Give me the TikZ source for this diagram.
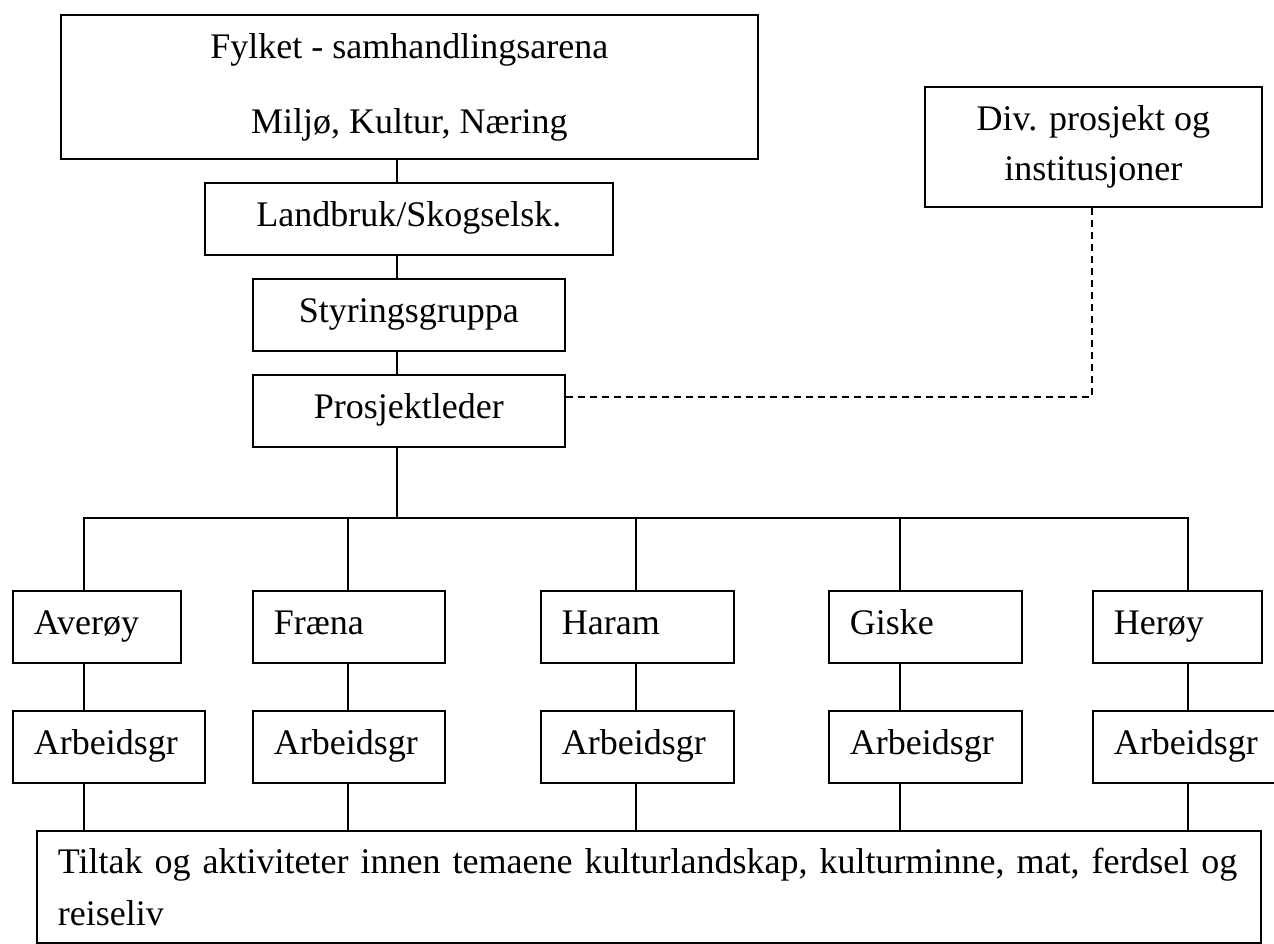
\documentclass[tikz,border=0pt]{standalone}
\usepackage{fontspec}
\setmainfont{Liberation Serif}

\tikzset{
  boks/.style={draw, line width=1.8pt, font=\fontsize{36}{52}\selectfont,
    inner sep=0pt, anchor=north west},
  enkel/.style={boks, text height=24pt, text depth=9pt},
  kboks/.style={enkel, minimum height=72pt, inner xsep=21pt, align=left},
  link/.style={line width=1.8pt, line cap=rect},
  dashlink/.style={line width=1.8pt, dash pattern=on 7pt off 5pt},
}

\begin{document}
\begin{tikzpicture}[x=1pt,y=-1pt]
  \useasboundingbox (0,0) rectangle (1274,944);
  % upper chain
  \node[boks, minimum width=697pt, minimum height=144pt, align=center] (fylke) at (60,14)
    {Fylket - samhandlingsarena\\[23pt]Miljø, Kultur, Næring};
  \node[enkel, minimum width=408pt, minimum height=72pt] (landbruk) at (204,182) {Landbruk/Skogselsk.};
  \node[enkel, minimum width=312pt, minimum height=72pt] (styring) at (252,278) {Styringsgruppa};
  \node[enkel, minimum width=312pt, minimum height=72pt] (leder) at (252,374) {Prosjektleder};
  \node[boks, minimum width=337pt, minimum height=120pt, align=center] (div) at (924,86)
    {Div. prosjekt og\\[-2pt]institusjoner};
  % bottom
  \node[boks, minimum height=112pt, inner xsep=21pt, text width=1182pt, align=left] (tiltak) at (36,830)
    {Tiltak og aktiviteter innen temaene kulturlandskap, kulturminne, mat, ferdsel og\\reiseliv};
  % kommunene
  \foreach \i/\navn/\xl/\wm/\wa/\xc in {1/Averøy/12/168/192/84, 2/Fræna/252/192/192/348,
      3/Haram/540/193/193/636, 4/Giske/828/193/193/900, 5/Herøy/1092/169/200/1188}{
    \pgfmathsetmacro{\twm}{\wm-42}
    \pgfmathsetmacro{\twa}{\wa-42}
    \node[kboks, text width=\twm pt] (kom\i) at (\xl,590) {\navn};
    \node[kboks, text width=\twa pt] (arb\i) at (\xl,710) {Arbeidsgr};
    \coordinate (bus\i) at (\xc,518);
  }
  % connectors
  \coordinate (spine) at (397,0);
  \draw[link] (fylke.south -| spine) -- (landbruk.north -| spine);
  \draw[link] (landbruk.south -| spine) -- (styring.north -| spine);
  \draw[link] (styring.south -| spine) -- (leder.north -| spine);
  \draw[link] (leder.south -| spine) -- (spine |- bus1);
  \draw[link] (bus1) -- (bus5);
  \foreach \i in {1,...,5}{
    \draw[link] (bus\i) -- (bus\i |- kom\i.north);
    \draw[link] (bus\i |- kom\i.south) -- (bus\i |- arb\i.north);
    \draw[link] (bus\i |- arb\i.south) -- (bus\i |- tiltak.north);
  }
  \coordinate (knekk) at (1092,397);
  \draw[dashlink] (leder.east |- knekk) -- (knekk) -- (div.south -| knekk);
\end{tikzpicture}
\end{document}
